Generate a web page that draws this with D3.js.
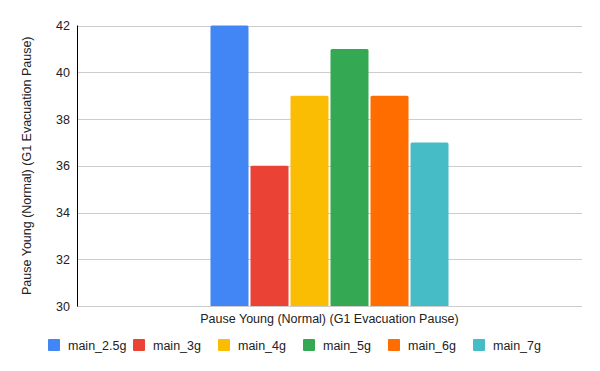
<!DOCTYPE html>
<html><head><meta charset="utf-8">
<script src="https://cdn.jsdelivr.net/npm/d3@7"></script>
<style>body{margin:0;background:#fff}svg{display:block;font-family:"Liberation Sans",Arial,sans-serif}</style>
</head><body><svg id="c" width="600" height="371"></svg>
<script>
const category = "Pause Young (Normal) (G1 Evacuation Pause)";
const seriesNames = ["main_2.5g","main_3g","main_4g","main_5g","main_6g","main_7g"];
const seriesValues = [42,36,39,41,39,37];
const seriesColors = ["#4285F4","#EA4335","#FBBC04","#34A853","#FF6D01","#46BDC6"];
const yTicks = [30,32,34,36,38,40,42];
const yTitle = "Pause Young (Normal) (G1 Evacuation Pause)";

const FS = 12.5;
const svg = d3.select("#c");
const L=77, R=582, T=25.5, B=306;
const y = d3.scaleLinear().domain([30,42]).range([B,T]);
const x0 = d3.scaleBand().domain([category]).range([L,R]).paddingInner(0).paddingOuter(0.552);
const x1 = d3.scaleBand().domain(seriesNames).range([0,x0.bandwidth()]).paddingInner(0.05).paddingOuter(0.025);

// gridlines
svg.append("g").selectAll("line").data(yTicks).join("line")
  .attr("x1",L).attr("x2",R).attr("y1",d=>Math.round(y(d))+0.5).attr("y2",d=>Math.round(y(d))+0.5)
  .attr("stroke","#cccccc").attr("stroke-width",1);

// y labels
svg.append("g").selectAll("text").data(yTicks).join("text")
  .attr("x",70).attr("y",d=>y(d)+4.5).attr("text-anchor","end")
  .attr("font-size",FS).attr("fill","#222").text(d=>d);

// bars
const g = svg.append("g").attr("transform",`translate(${x0(category)},0)`);
g.selectAll("path").data(seriesValues).join("path")
  .attr("fill",(d,i)=>seriesColors[i])
  .attr("d",(d,i)=>{
    const bx=x1(seriesNames[i]), w=x1.bandwidth(), top=y(d), bot=B, r=1.5;
    return `M${bx},${bot}V${top+r}Q${bx},${top} ${bx+r},${top}H${bx+w-r}Q${bx+w},${top} ${bx+w},${top+r}V${bot}Z`;
  });

// axis line
svg.append("line").attr("x1",L+0.5).attr("x2",L+0.5).attr("y1",T).attr("y2",B+0.5)
  .attr("stroke","#000").attr("stroke-width",1);

// x label
svg.append("text").attr("x",(L+R)/2).attr("y",323).attr("text-anchor","middle")
  .attr("font-size",FS).attr("fill","#222").text(category);

// y title
svg.append("text").attr("transform",`translate(31,${(T+B)/2}) rotate(-90)`)
  .attr("text-anchor","middle").attr("font-size",FS).attr("fill","#222").text(yTitle);

// legend
const lg = svg.append("g").selectAll("g").data(seriesNames).join("g")
  .attr("transform",(d,i)=>`translate(${48+i*85},339)`);
lg.append("rect").attr("width",12).attr("height",12).attr("rx",1).attr("fill",(d,i)=>seriesColors[i]);
lg.append("text").attr("x",20).attr("y",10.5).attr("font-size",FS).attr("fill","#222").text(d=>d);
</script></body></html>
